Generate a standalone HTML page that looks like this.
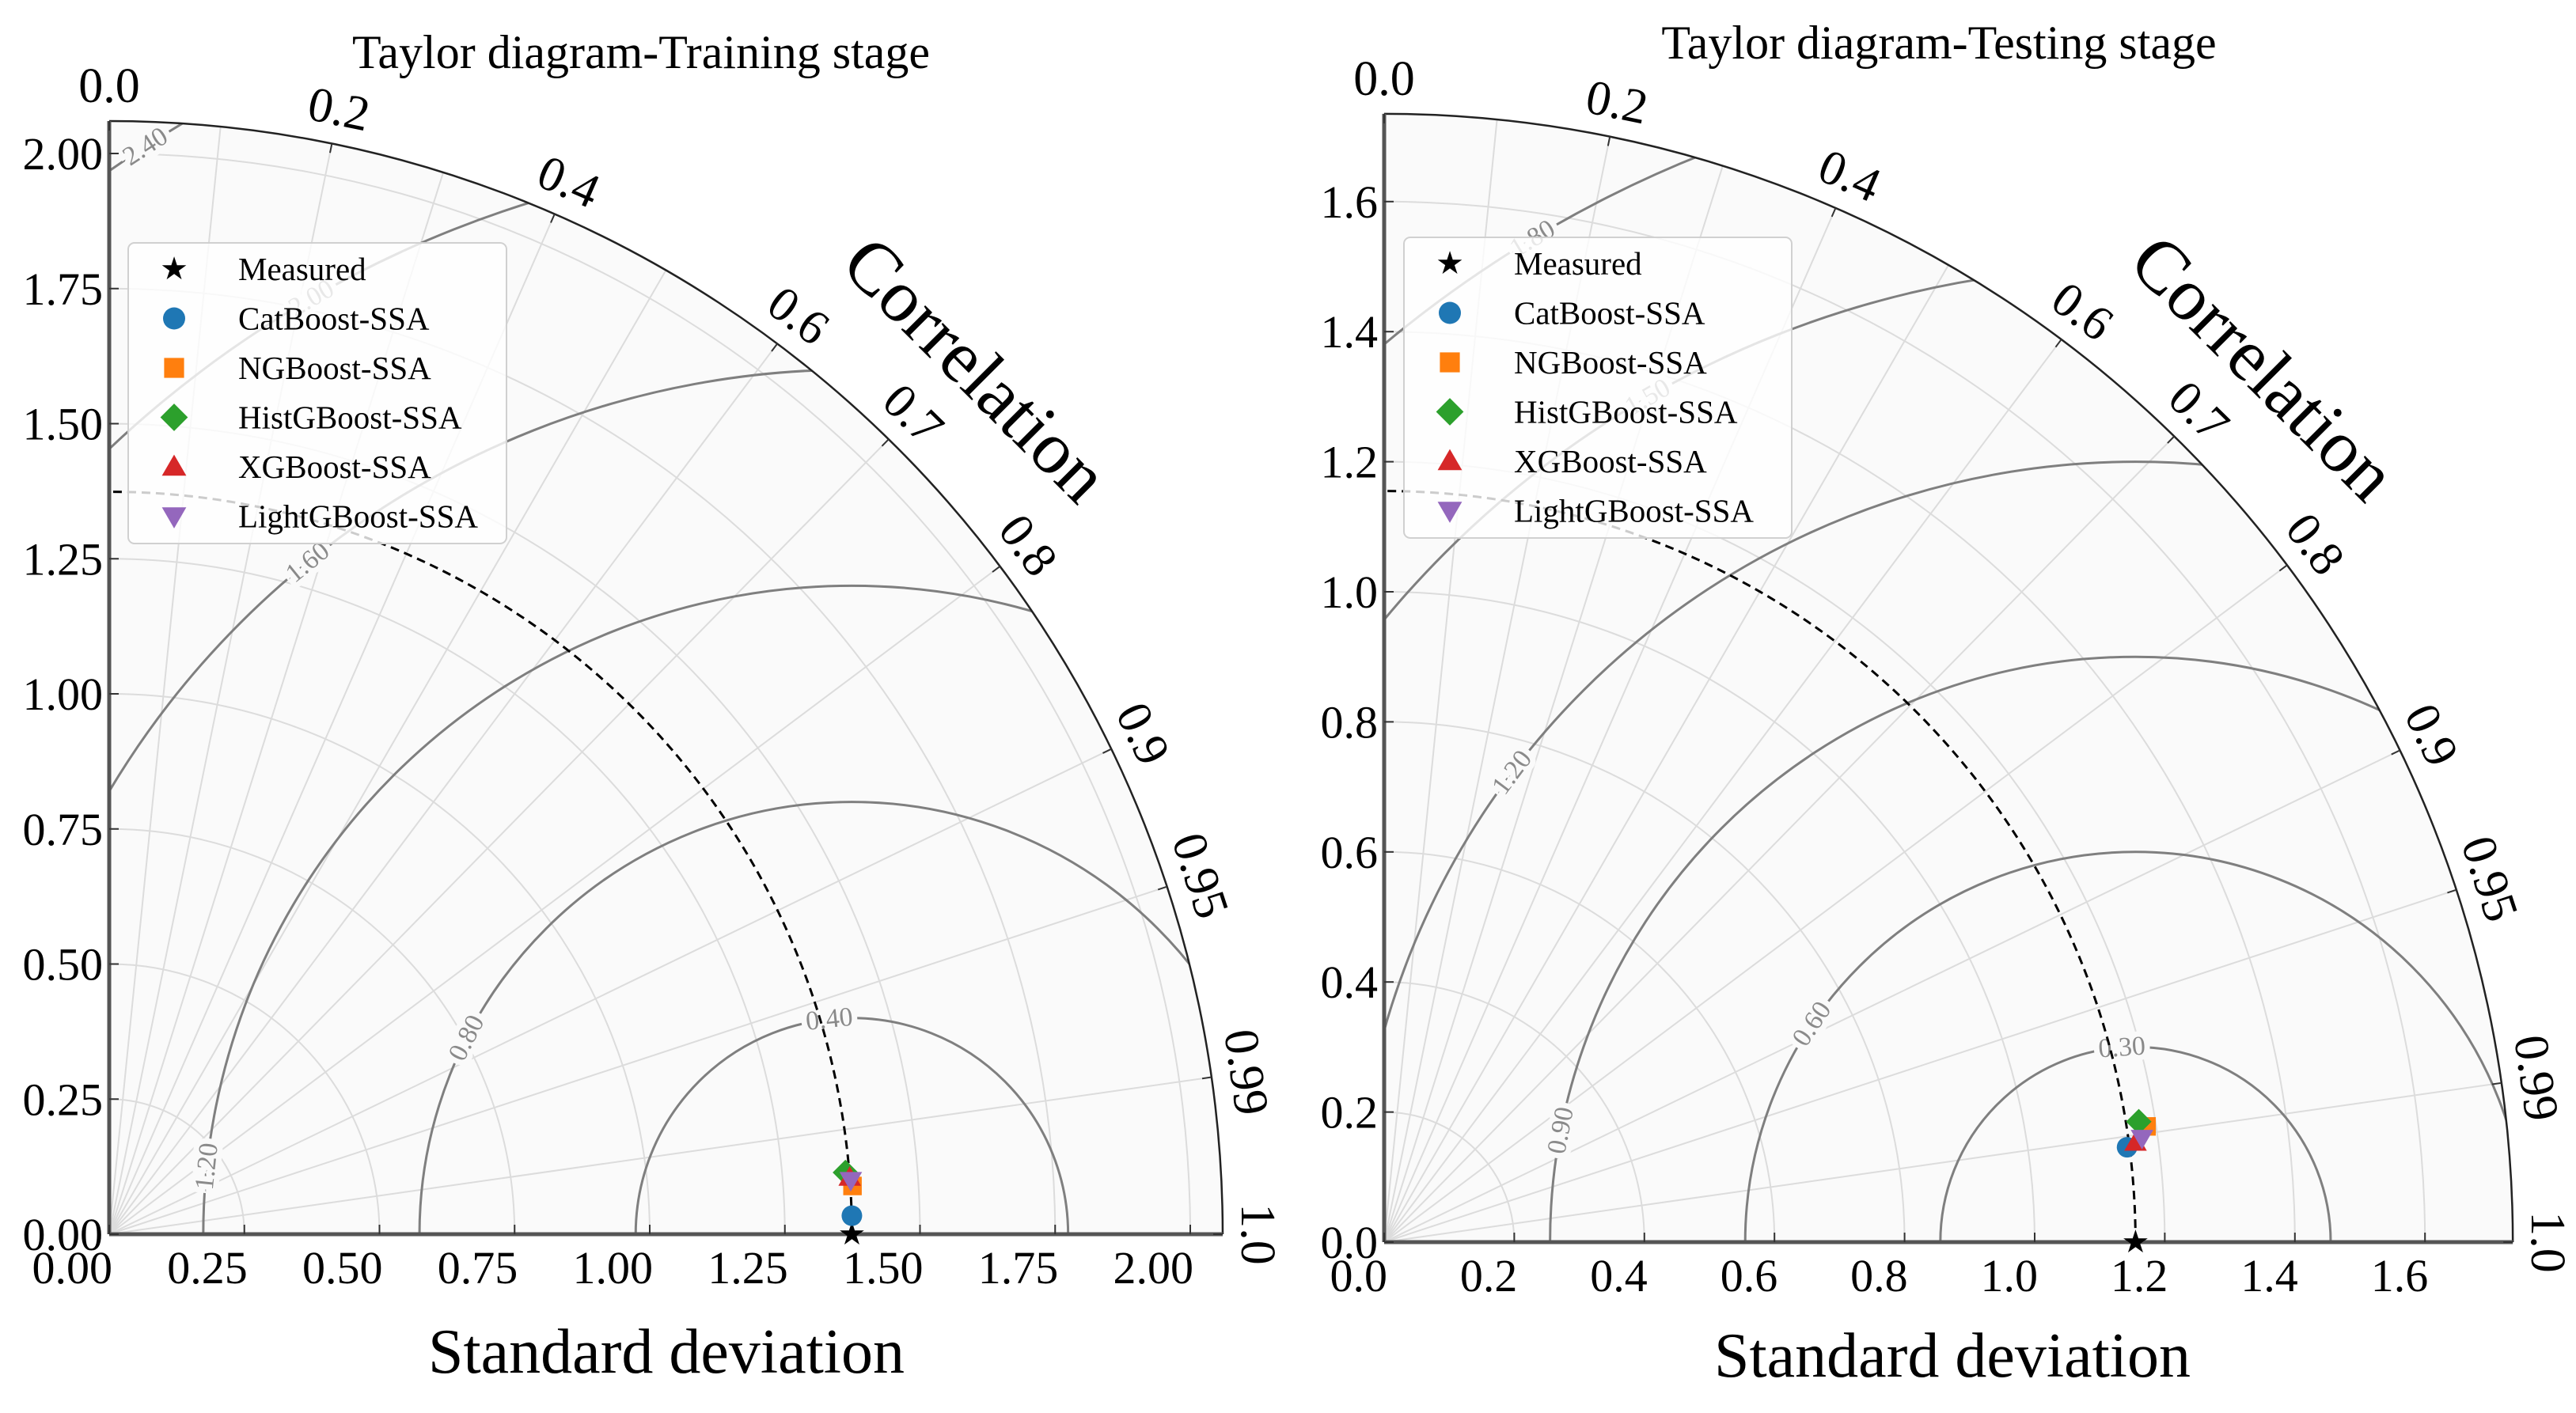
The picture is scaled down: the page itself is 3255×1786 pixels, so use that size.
<!DOCTYPE html>
<html><head><meta charset="utf-8">
<style>
html,body{margin:0;padding:0;background:#fff;overflow:hidden;}
svg{display:block;font-family:"Liberation Serif",serif;}
</style></head>
<body>
<svg id="fig" width="3255" height="1786" viewBox="0 0 3255 1786" xmlns="http://www.w3.org/2000/svg"></svg>
<script>
// ---- data ----
const modelNames = ["CatBoost-SSA","NGBoost-SSA","HistGBoost-SSA","XGBoost-SSA","LightGBoost-SSA"];
const modelColors = ["#1f77b4","#ff7f0e","#2ca02c","#d62728","#9467bd"];
const modelMarkers = ["circle","square","diamond","triup","tridown"];
const trainRefStd = 1.374;
const trainStd = [1.3744, 1.378, 1.3668, 1.374, 1.3756];
const trainCorr = [0.99969, 0.9979, 0.9965, 0.99708, 0.99736];
const testRefStd = 1.155;
const testStd = [1.1513, 1.1854, 1.1747, 1.1651, 1.1759];
const testCorr = [0.99194, 0.98867, 0.9875, 0.99133, 0.99071];
const trainStdTicks = ["0.00","0.25","0.50","0.75","1.00","1.25","1.50","1.75","2.00"];
const testStdTicks = ["0.0","0.2","0.4","0.6","0.8","1.0","1.2","1.4","1.6"];
const corrTicks = ["0.0","0.2","0.4","0.6","0.7","0.8","0.9","0.95","0.99","1.0"];
const corrGrid = [0.1,0.2,0.3,0.4,0.5,0.6,0.7,0.8,0.9,0.95,0.99];
const trainRms = ["0.40","0.80","1.20","1.60","2.00","2.40"];
const trainRmsLabelAngle = [96,153,174,129,120,123];
const testRms = ["0.30","0.60","0.90","1.20","1.50","1.80"];
const testRmsLabelAngle = [94,146,169,143,120,121];

const NS="http://www.w3.org/2000/svg";
const svg=document.getElementById('fig');
function mk(tag,attrs,parent){const e=document.createElementNS(NS,tag);for(const k in attrs)e.setAttribute(k,attrs[k]);(parent||svg).appendChild(e);return e;}

function panel(o){
  const g=mk('g',{});
  
  
  const ox=o.ox, oy=o.oy, s=o.scale, R=o.rmax;
  const X=(std,c)=>ox+std*c*s;
  const Y=(std,c)=>oy-std*Math.sqrt(Math.max(0,1-c*c))*s;
  const px=x=>ox+x*s, py=y=>oy-y*s;
  const clipId=o.id+'-clip';
  const defs=mk('defs',{},g);
  const cp=mk('clipPath',{id:clipId},defs);
  mk('path',{d:`M${ox},${oy} L${ox+R*s},${oy} A${R*s},${R*s} 0 0 0 ${ox},${oy-R*s} Z`},cp);
  const bg=mk('path',{d:`M${ox},${oy} L${ox+R*s},${oy} A${R*s},${R*s} 0 0 0 ${ox},${oy-R*s} Z`,fill:'#fafafa'},g);
  
  
  o.stdTicks.forEach((t,i)=>{const v=parseFloat(t); if(v<=0)return;
    const c=mk('path',{d:`M${px(v)},${oy} A${v*s},${v*s} 0 0 0 ${ox},${oy-v*s}`,fill:'none',stroke:'#dcdcdc','stroke-width':2},g);
    
    
  });
  corrGrid.forEach(c=>{
    const l=mk('line',{x1:ox,y1:oy,x2:X(R,c),y2:Y(R,c),stroke:'#dcdcdc','stroke-width':2},g);
    
    
  });
  const cg=mk('g',{'clip-path':`url(#${clipId})`},g);
  const cx=px(o.ref);
  o.rms.forEach((t,i)=>{const r=parseFloat(t)*s;
    const c=mk('circle',{cx:cx,cy:oy,r:r,fill:'none',stroke:'#7f7f7f','stroke-width':3},cg);
    
    
  });
  o.rms.forEach((t,i)=>{const r=parseFloat(t)*s; const a=o.rmsAng[i]*Math.PI/180;
    const lx=cx+r*Math.cos(a), ly=oy-r*Math.sin(a);
    const tx=mk('text',{x:lx,y:ly,'font-size':34,fill:'#8a8a8a','text-anchor':'middle','dominant-baseline':'central',stroke:'#fafafa','stroke-width':14,'paint-order':'stroke',transform:`rotate(${90-o.rmsAng[i]} ${lx} ${ly})`},cg);
    tx.textContent=t;
    
    
  });
  const rc=mk('path',{d:`M${px(o.ref)},${oy} A${o.ref*s},${o.ref*s} 0 0 0 ${ox},${oy-o.ref*s}`,fill:'none',stroke:'#000','stroke-width':3,'stroke-dasharray':'11,7'},g);
  
  
  const oa=mk('path',{d:`M${ox+R*s},${oy} A${R*s},${R*s} 0 0 0 ${ox},${oy-R*s}`,fill:'none',stroke:'#222','stroke-width':2.5},g);
  
  
  const ax=mk('line',{x1:ox,y1:oy,x2:ox+R*s,y2:oy,stroke:'#555','stroke-width':5},g);
  
  
  const ay=mk('line',{x1:ox,y1:oy,x2:ox,y2:oy-R*s,stroke:'#555','stroke-width':5},g);
  
  
  o.stdTicks.forEach(t=>{const v=parseFloat(t);
    mk('line',{x1:px(v),y1:oy,x2:px(v),y2:oy-12,stroke:'#333','stroke-width':2},g);
    mk('line',{x1:ox,y1:py(v),x2:ox+12,y2:py(v),stroke:'#333','stroke-width':2},g);
    const tx=mk('text',{x:px(v)+4,y:oy+62,'font-size':58,'text-anchor':'end'},g);
    tx.textContent=t;
    
    
    const ty=mk('text',{x:ox-8,y:py(v)+20,'font-size':58,'text-anchor':'end'},g);
    ty.textContent=t;
    
    
  });
  corrTicks.forEach(t=>{const c=parseFloat(t);
    const th=Math.acos(c); const rr=R*s+44;
    const lx=ox+rr*Math.cos(th), ly=oy-rr*Math.sin(th);
    mk('line',{x1:X(R,c),y1:Y(R,c),x2:ox+(R*s-12)*Math.cos(th),y2:oy-(R*s-12)*Math.sin(th),stroke:'#333','stroke-width':2},g);
    const tx=mk('text',{x:lx,y:ly,'font-size':62,'text-anchor':'middle','dominant-baseline':'central',transform:`rotate(${90-th*180/Math.PI} ${lx} ${ly})`},g);
    tx.textContent=t;
    
    
  });
  const ct=mk('text',{x:o.corrX,y:o.corrY,'font-size':94,'text-anchor':'middle','dominant-baseline':'central',transform:`rotate(45 ${o.corrX} ${o.corrY})`},g);
  ct.textContent='Correlation';
  
  
  const tt=mk('text',{x:o.titleX,y:o.titleY,'font-size':60,'text-anchor':'middle'},g);
  tt.textContent=o.title;
  
  
  const xt=mk('text',{x:o.xlabX,y:o.xlabY,'font-size':80,'text-anchor':'middle'},g);
  xt.textContent='Standard deviation';
  
  
  function marker(type,x,y,color,sz,parent){
    let e;
    if(type==='circle') e=mk('circle',{cx:x,cy:y,r:sz*0.5,fill:color},parent);
    else if(type==='square') e=mk('rect',{x:x-sz*0.45,y:y-sz*0.45,width:sz*0.9,height:sz*0.9,fill:color},parent);
    else if(type==='diamond') e=mk('path',{d:`M${x},${y-sz*0.62} L${x+sz*0.62},${y} L${x},${y+sz*0.62} L${x-sz*0.62},${y} Z`,fill:color},parent);
    else if(type==='triup') e=mk('path',{d:`M${x},${y-sz*0.55} L${x+sz*0.55},${y+sz*0.4} L${x-sz*0.55},${y+sz*0.4} Z`,fill:color},parent);
    else if(type==='tridown') e=mk('path',{d:`M${x},${y+sz*0.55} L${x+sz*0.55},${y-sz*0.4} L${x-sz*0.55},${y-sz*0.4} Z`,fill:color},parent);
    else e=mk('text',{x:x,y:y+13,'font-size':40,'text-anchor':'middle',fill:color},parent),e.textContent='★';
    return e;
  }
  const ms=marker('star',px(o.ref),oy,'#000',26,g);
  
  
  o.std.forEach((sd,i)=>{
    const m=marker(modelMarkers[i],X(sd,o.corr[i]),Y(sd,o.corr[i]),modelColors[i],26,g);
    
    
  });
  const lg=mk('g',{},g);
  
  
  mk('rect',{x:o.legX,y:o.legY,width:o.legW,height:380,rx:8,fill:'#fff','fill-opacity':0.8,stroke:'#d0d0d0','stroke-width':2},lg);
  const names=['Measured'].concat(modelNames);
  names.forEach((n,i)=>{
    const yy=o.legY+33+i*62.5;
    const m= i===0 ? marker('star',o.legX+58,yy,'#000',26,lg) : marker(modelMarkers[i-1],o.legX+58,yy,modelColors[i-1],28,lg);
    
    
    const tx=mk('text',{x:o.legX+139,y:yy+14,'font-size':41},lg);
    tx.textContent=n;
    
    
  });
}

panel({id:'training',ox:138,oy:1560,scale:683,rmax:2.06,ref:trainRefStd,std:trainStd,corr:trainCorr,
  stdTicks:trainStdTicks,rms:trainRms,rmsAng:trainRmsLabelAngle,corrX:1233,corrY:467,
  title:'Taylor diagram-Training stage',titleX:810,titleY:86,xlabX:842,xlabY:1735,legX:162,legY:307,legW:478});
panel({id:'testing',ox:1749,oy:1570,scale:822,rmax:1.735,ref:testRefStd,std:testStd,corr:testCorr,
  stdTicks:testStdTicks,rms:testRms,rmsAng:testRmsLabelAngle,corrX:2860,corrY:465,
  title:'Taylor diagram-Testing stage',titleX:2450,titleY:74,xlabX:2467,xlabY:1740,legX:1774,legY:300,legW:490});
</script>
</body></html>
